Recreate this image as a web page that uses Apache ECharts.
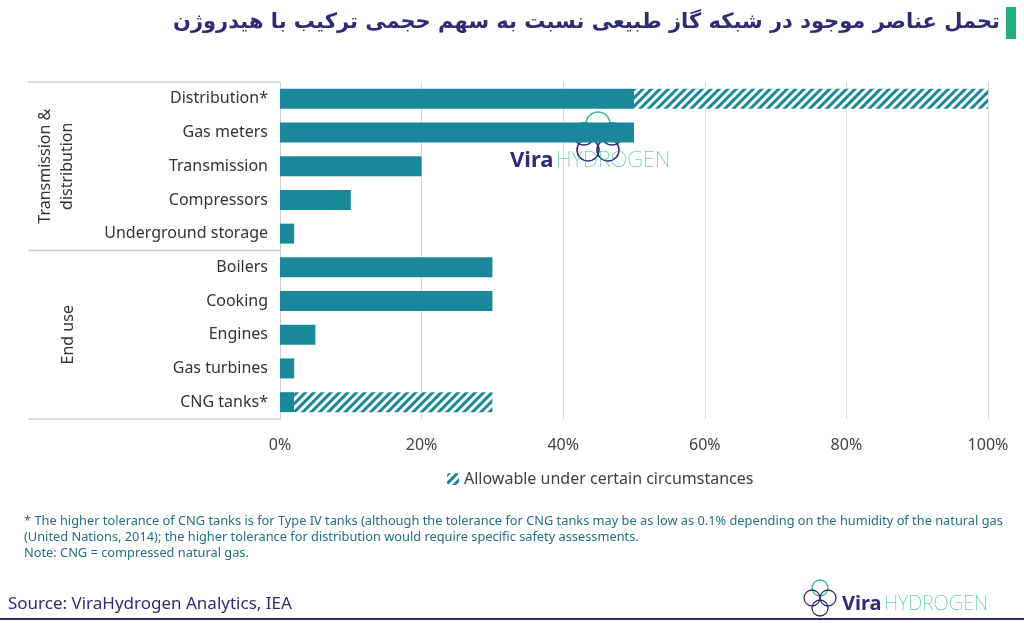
<!DOCTYPE html>
<html>
<head>
<meta charset="utf-8">
<script src="https://cdn.jsdelivr.net/npm/echarts@6/dist/echarts.min.js"></script>
<style>
  html, body { margin: 0; padding: 0; background: #fff; }
  #chart { width: 1024px; height: 623px; }
</style>
</head>
<body>
<div id="chart"></div>
<script>
// categories, top to bottom
const categories = ['Distribution*', 'Gas meters', 'Transmission', 'Compressors', 'Underground storage',
  'Boilers', 'Cooking', 'Engines', 'Gas turbines', 'CNG tanks*'];
// tolerated share of hydrogen (%)
const baseValues = [50, 50, 20, 10, 2, 30, 30, 5, 2, 2];
// extra share allowable under certain circumstances (%)
const extraValues = [50, 0, 0, 0, 0, 0, 0, 0, 0, 28];
const xTicks = [0, 20, 40, 60, 80, 100];
const groups = ['Transmission &\ndistribution', 'End use'];

const teal = '#1a889a';
const navy = '#2e2c75';

const myChart = echarts.init(document.getElementById('chart'));

const option = {
  animation: false,
  grid: { left: 280, right: 36, top: 82, bottom: 204 },
  legend: {
    data: ['Allowable under certain circumstances'],
    top: 466,
    left: 442,
    itemWidth: 12,
    itemHeight: 12,
    itemGap: 6,
    textStyle: { fontFamily: 'Noto Sans', fontSize: 16, color: '#404040' }
  },
  xAxis: {
    type: 'value',
    min: xTicks[0],
    max: xTicks[xTicks.length - 1],
    interval: 20,
    axisLine: { show: false },
    axisTick: { show: false },
    splitLine: { lineStyle: { color: '#d9d9d9', width: 1 } },
    axisLabel: {
      formatter: '{value}%',
      margin: 18,
      fontFamily: 'Noto Sans',
      fontSize: 16,
      color: '#404040'
    }
  },
  yAxis: {
    type: 'category',
    inverse: true,
    data: categories,
    axisLine: { show: true, lineStyle: { color: '#d0d0d0' } },
    axisTick: { show: false },
    axisLabel: {
      margin: 12,
      fontFamily: 'Noto Sans',
      fontSize: 16,
      color: '#333333'
    }
  },
  series: [
    {
      name: 'Base',
      type: 'bar',
      stack: 'total',
      barWidth: 20,
      itemStyle: { color: teal },
      data: baseValues
    },
    {
      name: 'Allowable under certain circumstances',
      type: 'bar',
      stack: 'total',
      barWidth: 20,
      itemStyle: {
        color: '#ffffff',
        decal: {
          symbol: 'rect',
          symbolSize: 1,
          dashArrayX: [[1, 0]],
          dashArrayY: [2.5, 2.5],
          rotation: -Math.PI / 4,
          color: teal
        }
      },
      data: extraValues
    }
  ]
};

myChart.setOption(option);

// group box and labels placed from the category scale
function bandEdge(idx, side) {
  const c = myChart.convertToPixel({ yAxisIndex: 0 }, categories[idx]);
  const half = (myChart.convertToPixel({ yAxisIndex: 0 }, categories[1]) -
    myChart.convertToPixel({ yAxisIndex: 0 }, categories[0])) / 2;
  return c + side * half;
}
const yTop = bandEdge(0, -1);
const yMid = bandEdge(4, 1);
const yBot = bandEdge(9, 1);
const lineStyle = { stroke: '#d0d0d0', lineWidth: 1.5 };

myChart.setOption({
  graphic: [
    // title
    {
      type: 'text', right: 24, top: 12,
      style: {
        text: 'تحمل عناصر موجود در شبکه گاز طبیعی نسبت به سهم حجمی ترکیب با هیدروژن',
        fontFamily: 'DejaVu Sans', fontWeight: 'bold', fontSize: 21, fill: navy
      }
    },
    { type: 'rect', shape: { x: 1006, y: 7, width: 10, height: 32 }, style: { fill: '#1fb07c' } },
    // group separators
    { type: 'line', shape: { x1: 28, y1: yTop, x2: 280, y2: yTop }, style: lineStyle },
    { type: 'line', shape: { x1: 28, y1: yMid, x2: 280, y2: yMid }, style: lineStyle },
    { type: 'line', shape: { x1: 28, y1: yBot, x2: 280, y2: yBot }, style: lineStyle },
    {
      type: 'text', x: 56, y: (yTop + yMid) / 2, rotation: Math.PI / 2,
      style: {
        text: groups[0], fontFamily: 'Noto Sans', fontSize: 16, fill: '#333333',
        align: 'center', verticalAlign: 'middle', lineHeight: 22
      }
    },
    {
      type: 'text', x: 68, y: (yMid + yBot) / 2, rotation: Math.PI / 2,
      style: {
        text: groups[1], fontFamily: 'Noto Sans', fontSize: 16, fill: '#333333',
        align: 'center', verticalAlign: 'middle'
      }
    },
    // watermark logo
    { type: 'circle', shape: { cx: 598, cy: 124, r: 12 }, style: { fill: 'none', stroke: '#2fb99a', lineWidth: 1.5 } },
    { type: 'circle', shape: { cx: 584, cy: 134, r: 11 }, style: { fill: 'none', stroke: navy, lineWidth: 1.5 } },
    { type: 'circle', shape: { cx: 612, cy: 134, r: 11 }, style: { fill: 'none', stroke: navy, lineWidth: 1.5 } },
    { type: 'circle', shape: { cx: 588, cy: 150, r: 11 }, style: { fill: 'none', stroke: navy, lineWidth: 1.5 } },
    { type: 'circle', shape: { cx: 608, cy: 150, r: 11 }, style: { fill: 'none', stroke: navy, lineWidth: 1.5 } },
    {
      type: 'text', x: 510, y: 150,
      style: { text: 'Vira', fontFamily: 'Noto Sans', fontWeight: 'bold', fontSize: 22, fill: navy }
    },
    {
      type: 'text', x: 556, y: 150,
      style: { text: 'HYDROGEN', fontFamily: 'Noto Sans', fontWeight: 'lighter', fontSize: 22, fill: '#2fc2a0' }
    },
    // footnotes
    {
      type: 'text', left: 24, top: 513,
      style: {
        text: '* The higher tolerance of CNG tanks is for Type IV tanks (although the tolerance for CNG tanks may be as low as 0.1% depending on the humidity of the natural gas\n(United Nations, 2014); the higher tolerance for distribution would require specific safety assessments.\nNote: CNG = compressed natural gas.',
        fontFamily: 'Noto Sans', fontSize: 12.8, lineHeight: 16, fill: '#1f6f86'
      }
    },
    {
      type: 'text', left: 8, top: 596,
      style: { text: 'Source: ViraHydrogen Analytics, IEA', fontFamily: 'Noto Sans', fontSize: 17, fill: navy }
    },
    { type: 'rect', shape: { x: 0, y: 618, width: 1024, height: 2 }, style: { fill: navy } },
    // footer logo
    { type: 'circle', shape: { cx: 820, cy: 588, r: 8 }, style: { fill: 'none', stroke: '#2fb99a', lineWidth: 1.3 } },
    { type: 'circle', shape: { cx: 812, cy: 598, r: 8 }, style: { fill: 'none', stroke: navy, lineWidth: 1.3 } },
    { type: 'circle', shape: { cx: 828, cy: 598, r: 8 }, style: { fill: 'none', stroke: navy, lineWidth: 1.3 } },
    { type: 'circle', shape: { cx: 820, cy: 608, r: 8 }, style: { fill: 'none', stroke: navy, lineWidth: 1.3 } },
    {
      type: 'text', x: 842, y: 594,
      style: { text: 'Vira', fontFamily: 'Noto Sans', fontWeight: 'bold', fontSize: 20, fill: navy }
    },
    {
      type: 'text', x: 884, y: 594,
      style: { text: 'HYDROGEN', fontFamily: 'Noto Sans', fontWeight: 'lighter', fontSize: 20, fill: '#2fc2a0' }
    }
  ]
});

window.addEventListener('resize', () => {
  myChart.resize();
});
</script>
</body>
</html>
